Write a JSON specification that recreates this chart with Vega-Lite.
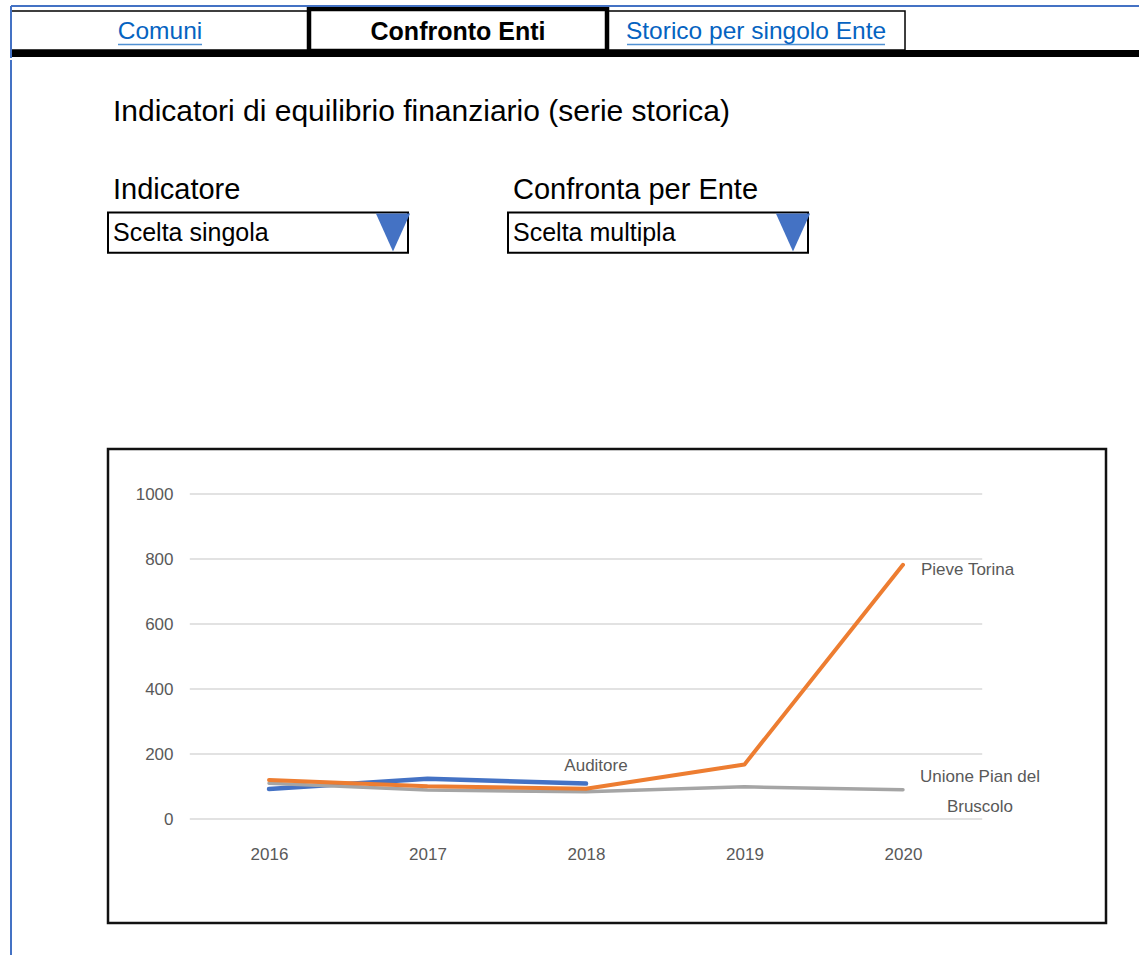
{
  "$schema": "https://vega.github.io/schema/vega-lite/v6.json",
  "padding": {"left": 7, "top": 5, "right": 0, "bottom": 0},
  "background": "white",
  "spacing": 0,
  "config": {
    "view": {"stroke": null},
    "font": "Liberation Sans, Arial, sans-serif",
    "axis": {"labelFont": "Liberation Sans, Arial, sans-serif"}
  },
  "datasets": {
    "serie": [
      {"ente": "Auditore", "anno": 2016, "valore": 92},
      {"ente": "Auditore", "anno": 2017, "valore": 124},
      {"ente": "Auditore", "anno": 2018, "valore": 109},
      {"ente": "Unione Pian del Bruscolo", "anno": 2016, "valore": 110},
      {"ente": "Unione Pian del Bruscolo", "anno": 2017, "valore": 89},
      {"ente": "Unione Pian del Bruscolo", "anno": 2018, "valore": 84},
      {"ente": "Unione Pian del Bruscolo", "anno": 2019, "valore": 99},
      {"ente": "Unione Pian del Bruscolo", "anno": 2020, "valore": 90},
      {"ente": "Pieve Torina", "anno": 2016, "valore": 120},
      {"ente": "Pieve Torina", "anno": 2017, "valore": 101},
      {"ente": "Pieve Torina", "anno": 2018, "valore": 93},
      {"ente": "Pieve Torina", "anno": 2019, "valore": 168},
      {"ente": "Pieve Torina", "anno": 2020, "valore": 782}
    ],
    "schede": [
      {"scheda": "Comuni", "attiva": false},
      {"scheda": "Confronto Enti", "attiva": true},
      {"scheda": "Storico per singolo Ente", "attiva": false}
    ],
    "filtri": [
      {"campo": "Indicatore", "riga": "titolo", "testo": "Indicatori di equilibrio finanziario (serie storica)"},
      {"campo": "Indicatore", "riga": "etichetta", "testo": "Indicatore"},
      {"campo": "Confronta per Ente", "riga": "etichetta", "testo": "Confronta per Ente"},
      {"campo": "Indicatore", "riga": "valore", "testo": "Scelta singola"},
      {"campo": "Confronta per Ente", "riga": "valore", "testo": "Scelta multipla"}
    ],
    "griglia": [{"v": 0}, {"v": 200}, {"v": 400}, {"v": 600}, {"v": 800}, {"v": 1000}],
    "bordo": [{"lato": "sinistro"}]
  },
  "vconcat": [
    {
      "width": 1128,
      "height": 52,
      "data": {"name": "schede"},
      "layer": [
        {
          "mark": {"type": "rect", "fill": "white", "stroke": "black", "strokeWidth": 1.5},
          "encoding": {
            "x": {"field": "scheda", "type": "nominal", "axis": null,
                  "scale": {"type": "band", "domain": ["Comuni", "Confronto Enti", "Storico per singolo Ente"], "paddingInner": 0, "paddingOuter": 0.3926, "align": 0}},
            "y": {"datum": 5, "type": "quantitative", "axis": null,
                  "scale": {"domain": [0, 52], "reverse": true, "nice": false, "zero": false}},
            "y2": {"datum": 44}
          }
        },
        {
          "transform": [{"filter": "datum.attiva"}],
          "mark": {"type": "rect", "fill": "white", "stroke": "black", "strokeWidth": 4.5},
          "encoding": {
            "x": {"field": "scheda", "type": "nominal", "axis": null},
            "y": {"datum": 3, "type": "quantitative", "axis": null},
            "y2": {"datum": 45}
          }
        },
        {
          "mark": {"type": "rule", "color": "black", "strokeWidth": 7},
          "encoding": {"y": {"datum": 47.5, "type": "quantitative", "axis": null}}
        },
        {
          "mark": {"type": "rule", "color": "#4472C4", "strokeWidth": 2},
          "encoding": {"y": {"datum": 0, "type": "quantitative", "axis": null}}
        },
        {
          "transform": [{"filter": "datum.scheda === 'Comuni'"}],
          "mark": {"type": "rule", "color": "#4472C4", "strokeWidth": 2},
          "encoding": {"x": {"field": "scheda", "type": "nominal", "axis": null, "bandPosition": 0}}
        },
        {
          "transform": [{"filter": "!datum.attiva"}],
          "mark": {"type": "text", "fontSize": 24.5, "color": "#0563C1", "baseline": "middle"},
          "encoding": {
            "x": {"field": "scheda", "type": "nominal", "axis": null},
            "y": {"datum": 26, "type": "quantitative", "axis": null},
            "text": {"field": "scheda"}
          }
        },
        {
          "transform": [{"filter": "datum.attiva"}],
          "mark": {"type": "text", "fontSize": 25, "fontWeight": "bold", "color": "black", "baseline": "middle"},
          "encoding": {
            "x": {"field": "scheda", "type": "nominal", "axis": null},
            "y": {"datum": 26, "type": "quantitative", "axis": null},
            "text": {"field": "scheda"}
          }
        },
        {
          "transform": [{"filter": "datum.scheda === 'Comuni'"}],
          "mark": {"type": "tick", "color": "#0563C1", "size": 84, "thickness": 1.5},
          "encoding": {
            "x": {"field": "scheda", "type": "nominal", "axis": null},
            "y": {"datum": 38.5, "type": "quantitative", "axis": null}
          }
        },
        {
          "transform": [{"filter": "datum.scheda === 'Storico per singolo Ente'"}],
          "mark": {"type": "tick", "color": "#0563C1", "size": 258, "thickness": 1.5},
          "encoding": {
            "x": {"field": "scheda", "type": "nominal", "axis": null},
            "y": {"datum": 38.5, "type": "quantitative", "axis": null}
          }
        }
      ]
    },
    {
      "spacing": 0,
      "hconcat": [
        {
          "width": 95,
          "height": 895,
          "data": {"name": "bordo"},
          "mark": {"type": "rule", "color": "#4472C4", "strokeWidth": 2},
          "encoding": {"x": {"field": "lato", "type": "nominal", "axis": null, "bandPosition": 0}}
        },
        {
          "spacing": 169,
          "vconcat": [
            {
              "width": 700,
              "height": 218,
              "data": {"name": "filtri"},
              "layer": [
                {
                  "transform": [{"filter": "datum.riga === 'valore'"}],
                  "mark": {"type": "rect", "fill": "white", "stroke": "black", "strokeWidth": 2},
                  "encoding": {
                    "x": {"field": "campo", "type": "nominal", "axis": null,
                          "scale": {"type": "band", "domain": ["Indicatore", "Confronta per Ente"], "paddingInner": 0.25, "paddingOuter": 0}},
                    "y": {"field": "riga", "type": "nominal", "axis": null,
                          "scale": {"type": "band", "domain": ["titolo", "vuoto", "etichetta", "valore"], "paddingInner": 0.05, "paddingOuter": 0.597}}
                  }
                },
                {
                  "transform": [{"filter": "datum.riga === 'titolo'"}],
                  "mark": {"type": "text", "align": "left", "baseline": "middle", "dx": 5, "dy": 7, "fontSize": 30, "color": "black"},
                  "encoding": {
                    "x": {"field": "campo", "type": "nominal", "axis": null, "bandPosition": 0},
                    "y": {"field": "riga", "type": "nominal", "axis": null},
                    "text": {"field": "testo"}
                  }
                },
                {
                  "transform": [{"filter": "datum.riga === 'etichetta'"}],
                  "mark": {"type": "text", "align": "left", "baseline": "middle", "dx": 5, "fontSize": 29, "color": "black"},
                  "encoding": {
                    "x": {"field": "campo", "type": "nominal", "axis": null, "bandPosition": 0},
                    "y": {"field": "riga", "type": "nominal", "axis": null},
                    "text": {"field": "testo"}
                  }
                },
                {
                  "transform": [{"filter": "datum.riga === 'valore'"}],
                  "mark": {"type": "text", "align": "left", "baseline": "middle", "dx": 5, "fontSize": 25, "color": "black"},
                  "encoding": {
                    "x": {"field": "campo", "type": "nominal", "axis": null, "bandPosition": 0},
                    "y": {"field": "riga", "type": "nominal", "axis": null},
                    "text": {"field": "testo"}
                  }
                },
                {
                  "transform": [{"filter": "datum.riga === 'valore'"}],
                  "mark": {"type": "point", "shape": "M-0.9,-1L0.9,-1L0,1Z", "filled": true, "color": "#4472C4", "opacity": 1, "size": 1444},
                  "encoding": {
                    "x": {"field": "campo", "type": "nominal", "axis": null, "bandPosition": 0.95},
                    "y": {"field": "riga", "type": "nominal", "axis": null}
                  }
                }
              ]
            },
            {
              "width": 998,
              "height": 474,
              "view": {"stroke": "#111111", "strokeWidth": 2.5},
              "layer": [
                {
                  "data": {"name": "griglia"},
                  "mark": {"type": "rule", "color": "#d9d9d9", "strokeWidth": 1.5},
                  "encoding": {
                    "y": {"field": "v", "type": "quantitative",
                          "scale": {"domain": [-320, 1138.5], "nice": false, "zero": false},
                          "axis": {"values": [0, 200, 400, 600, 800, 1000], "format": "d", "offset": -65, "labelPadding": 0, "ticks": false, "domain": false, "grid": false, "title": null, "labelColor": "#595959", "labelFontSize": 17, "minExtent": 0}},
                    "x": {"datum": 2015.5, "type": "quantitative",
                          "scale": {"domain": [2014.984, 2021.281], "nice": false, "zero": false},
                          "axis": {"values": [2016, 2017, 2018, 2019, 2020], "format": "d", "offset": -69, "labelPadding": 0, "labelBaseline": "middle", "labelFlush": false, "ticks": false, "domain": false, "grid": false, "title": null, "labelColor": "#595959", "labelFontSize": 17, "minExtent": 0}},
                    "x2": {"datum": 2020.5}
                  }
                },
                {
                  "data": {"name": "serie"},
                  "mark": {"type": "line", "strokeCap": "round", "strokeJoin": "round"},
                  "encoding": {
                    "x": {"field": "anno", "type": "quantitative",
                          "axis": {"values": [2016, 2017, 2018, 2019, 2020], "format": "d", "offset": -69, "labelPadding": 0, "labelBaseline": "middle", "labelFlush": false, "ticks": false, "domain": false, "grid": false, "title": null, "labelColor": "#595959", "labelFontSize": 17, "minExtent": 0}},
                    "y": {"field": "valore", "type": "quantitative",
                          "axis": {"values": [0, 200, 400, 600, 800, 1000], "format": "d", "offset": -65, "labelPadding": 0, "ticks": false, "domain": false, "grid": false, "title": null, "labelColor": "#595959", "labelFontSize": 17, "minExtent": 0}},
                    "color": {"field": "ente", "type": "nominal", "legend": null,
                              "scale": {"domain": ["Auditore", "Pieve Torina", "Unione Pian del Bruscolo"], "range": ["#4472C4", "#ED7D31", "#A5A5A5"]}},
                    "strokeWidth": {"field": "ente", "type": "nominal", "legend": null,
                                    "scale": {"domain": ["Auditore", "Pieve Torina", "Unione Pian del Bruscolo"], "range": [4.5, 3.5, 5.5]}}
                  }
                },
                {
                  "data": {"name": "serie"},
                  "transform": [{"filter": "datum.ente === 'Pieve Torina' && datum.anno === 2020"}],
                  "mark": {"type": "text", "align": "left", "baseline": "middle", "dx": 18, "dy": 5, "fontSize": 17, "color": "#595959"},
                  "encoding": {
                    "x": {"field": "anno", "type": "quantitative"},
                    "y": {"field": "valore", "type": "quantitative"},
                    "text": {"field": "ente"}
                  }
                },
                {
                  "data": {"name": "serie"},
                  "transform": [{"filter": "datum.ente === 'Auditore' && datum.anno === 2018"}],
                  "mark": {"type": "text", "align": "center", "baseline": "middle", "dx": 10, "dy": -18, "fontSize": 17, "color": "#595959"},
                  "encoding": {
                    "x": {"field": "anno", "type": "quantitative"},
                    "y": {"field": "valore", "type": "quantitative"},
                    "text": {"field": "ente"}
                  }
                },
                {
                  "data": {"name": "serie"},
                  "transform": [{"filter": "datum.ente === 'Unione Pian del Bruscolo' && datum.anno === 2020"}],
                  "mark": {"type": "text", "align": "center", "baseline": "middle", "dx": 77, "dy": -13, "lineHeight": 30, "fontSize": 17, "color": "#595959"},
                  "encoding": {
                    "x": {"field": "anno", "type": "quantitative"},
                    "y": {"field": "valore", "type": "quantitative"},
                    "text": {"value": ["Unione Pian del", "Bruscolo"]}
                  }
                }
              ]
            }
          ]
        }
      ]
    }
  ]
}
